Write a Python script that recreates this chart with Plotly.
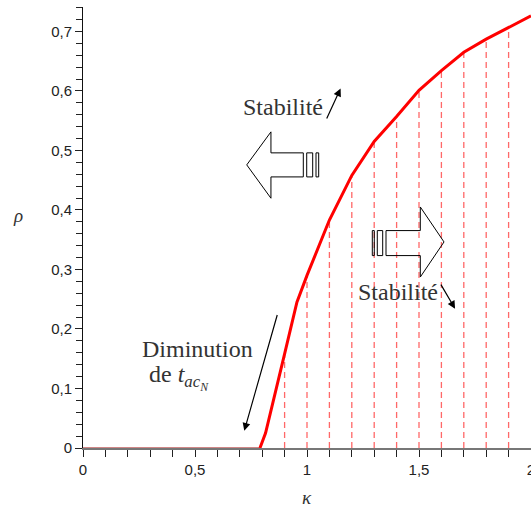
import numpy as np
import plotly.graph_objects as go

# ---- data ----
kappa = [0.79, 0.815, 0.9, 0.955, 1.0, 1.1, 1.2, 1.3, 1.4, 1.5, 1.6, 1.7, 1.8, 1.9, 2.0]
rho = [0.0, 0.025, 0.158, 0.245, 0.29, 0.383, 0.458, 0.515, 0.557, 0.601, 0.634, 0.665, 0.687, 0.706, 0.726]
zero_kappa = [0.0, 0.79]
zero_rho = [0.0, 0.0]
dash_kappa = [0.9, 1.0, 1.1, 1.2, 1.3, 1.4, 1.5, 1.6, 1.7, 1.8, 1.9]

dash_rho = np.interp(dash_kappa, kappa, rho)
dx, dy = [], []
for k, r in zip(dash_kappa, dash_rho):
    dx += [k, k, None]
    dy += [0, r, None]

fig = go.Figure()
fig.add_trace(go.Scatter(x=dx, y=dy, mode="lines",
                         line=dict(color="rgba(255,40,40,0.7)", width=1.3, dash="6px,4px"),
                         hoverinfo="skip"))
fig.add_trace(go.Scatter(x=zero_kappa, y=zero_rho, mode="lines",
                         line=dict(color="#a01010", width=1.2), cliponaxis=False))
fig.add_trace(go.Scatter(x=kappa, y=rho, mode="lines",
                         line=dict(color="#ff0000", width=3), cliponaxis=False))

serif = "Liberation Serif"

def block(points):
    return "M " + " L ".join(f"{x},{y}" for x, y in points) + " Z"

shapes = []
# left block arrow
shapes.append(dict(type="path", xref="x", yref="y", line=dict(color="black", width=1),
                   path=block([(0.731, 0.4757), (0.839, 0.5312), (0.839, 0.4959), (0.9835, 0.4959),
                               (0.9835, 0.4555), (0.839, 0.4555), (0.839, 0.4197)])))
for x0, x1 in [(0.9987, 1.0254), (1.0402, 1.0522)]:
    shapes.append(dict(type="rect", xref="x", yref="y", x0=x0, x1=x1, y0=0.4555, y1=0.4959,
                       line=dict(color="black", width=1)))
# right block arrow
shapes.append(dict(type="path", xref="x", yref="y", line=dict(color="black", width=1),
                   path=block([(1.6116, 0.3462), (1.5058, 0.4050), (1.5058, 0.3653), (1.3527, 0.3653),
                               (1.3527, 0.3233), (1.5058, 0.3233), (1.5058, 0.2873)])))
for x0, x1 in [(1.2915, 1.3004), (1.3138, 1.3379)]:
    shapes.append(dict(type="rect", xref="x", yref="y", x0=x0, x1=x1, y0=0.3233, y1=0.3653,
                       line=dict(color="black", width=1)))

annotations = []
for (x, y, ax, ay) in [(1.150, 0.604, 1.085, 0.551),
                       (1.661, 0.234, 1.594, 0.277),
                       (0.720, 0.029, 0.869, 0.226)]:
    annotations.append(dict(x=x, y=y, ax=ax, ay=ay, xref="x", yref="y", axref="x", ayref="y",
                            text="", showarrow=True, arrowhead=2, arrowsize=1.3, arrowwidth=1.2,
                            arrowcolor="black", standoff=0, startstandoff=0))
tf = dict(family=serif, size=24, color="#333")
annotations += [
    dict(x=0.891, y=0.573, xref="x", yref="y", text="Stabilité", showarrow=False, font=tf),
    dict(x=1.404, y=0.262, xref="x", yref="y", text="Stabilité", showarrow=False, font=tf),
    dict(x=0.509, y=0.166, xref="x", yref="y", text="Diminution", showarrow=False, font=tf),
    dict(x=0.286, y=0.118, xref="x", yref="y", xanchor="left",
         text="de <i>t</i><sub><i>ac</i><sub><i>N</i></sub></sub>", showarrow=False, font=tf),
]
W, H, L, R, T, B = 531, 508, 83, 0, 7, 60
for txt, px, py in [("<i>ρ</i>", 18, 215), ("<i>κ</i>", 307, 497)]:
    annotations.append(dict(x=(px - L) / (W - L - R), y=(H - B - py) / (H - T - B),
                            xref="paper", yref="paper", xanchor="center", yanchor="middle",
                            text=txt, showarrow=False,
                            font=dict(family=serif, size=19, color="#333")))

fig.update_layout(
    width=W, height=H, margin=dict(l=L, r=R, t=T, b=B),
    paper_bgcolor="white", plot_bgcolor="white", showlegend=False,
    separators=", ",
    font=dict(family="Liberation Sans", size=15, color="#222"),
    shapes=shapes, annotations=annotations,
    xaxis=dict(range=[0, 2], dtick=0.5, tick0=0, ticks="outside", ticklen=7, tickcolor="#222",
               ticklabeloverflow="allow", automargin=False,
               showline=True, linecolor="#777", linewidth=1.5, showgrid=False, zeroline=False,
               minor=dict(dtick=0.1, ticks="outside", ticklen=7, tickcolor="#222", showgrid=False)),
    yaxis=dict(range=[0, 0.741], dtick=0.1, tick0=0, ticks="outside", ticklen=7, tickcolor="#222",
               ticklabeloverflow="allow", automargin=False,
               showline=True, linecolor="#111", linewidth=1, showgrid=False, zeroline=False,
               minor=dict(dtick=0.02, ticks="outside", ticklen=6, tickcolor="#222", showgrid=False)),
)
fig.write_html("out.html", config={"displayModeBar": False},
               post_script="document.body.style.margin='0';document.body.style.overflow='hidden';")
